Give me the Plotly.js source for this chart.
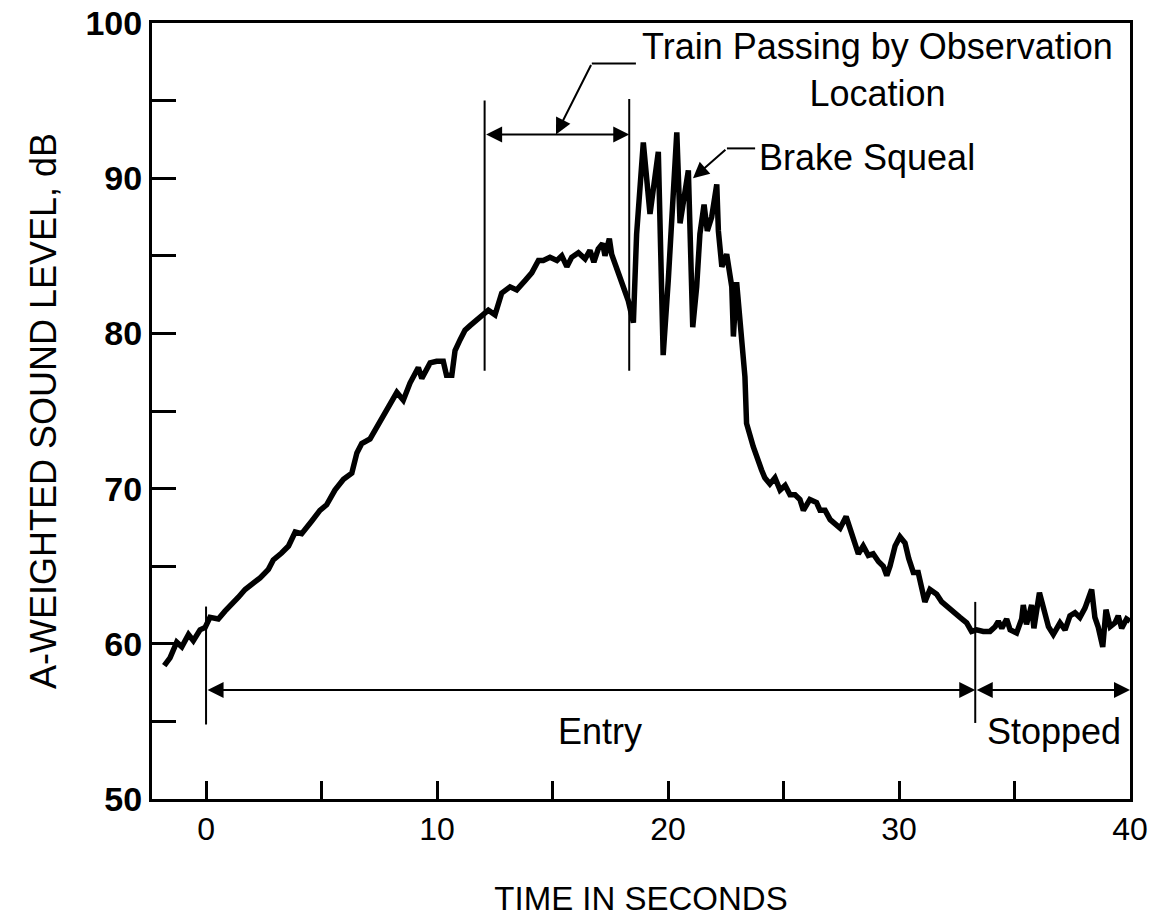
<!DOCTYPE html>
<html>
<head>
<meta charset="utf-8">
<script src="https://cdn.plot.ly/plotly-3.0.1.min.js"></script>
<style>html,body{margin:0;padding:0;background:#fff;}#chart{width:1156px;height:917px;}</style>
</head>
<body>
<div id="chart"></div>
<script>
const timeSec = [-1.81,-1.56,-1.27,-1.05,-0.76,-0.55,-0.26,-0.04,0.17,0.53,0.82,1.11,1.40,1.69,1.98,2.34,2.70,2.91,3.27,3.57,3.86,4.14,4.57,
4.93,5.22,5.58,5.95,6.31,6.53,6.74,7.10,7.53,7.96,8.26,8.54,8.83,9.19,9.34,9.70,9.98,10.27,10.41,10.64,10.78,11.00,11.21,11.43,11.80,
12.22,12.51,12.80,13.16,13.45,13.81,14.10,14.39,14.60,14.89,15.19,15.40,15.62,15.83,16.12,16.41,16.62,16.79,16.98,17.17,17.27,17.46,17.56,17.92,18.28,18.50,
18.64,18.93,19.08,19.22,19.58,19.79,20.01,20.38,20.52,20.66,20.88,21.07,21.24,21.38,21.56,21.70,21.89,22.11,22.18,22.33,22.54,22.76,22.83,22.97,23.12,23.33,
23.40,23.69,24.05,24.19,24.41,24.63,24.85,25.07,25.28,25.50,25.71,25.86,26.14,26.43,26.58,26.80,27.02,27.31,27.45,27.71,27.88,28.09,28.24,28.45,28.67,28.88,29.11,29.32,29.47,29.61,29.83,30.04,30.26,30.42,
30.62,30.83,31.12,31.34,31.63,31.85,32.07,32.35,32.64,32.93,33.14,33.36,33.65,33.94,34.16,34.30,34.45,34.66,34.81,35.09,35.31,35.38,35.52,35.74,35.84,36.08,36.25,36.47,36.68,36.97,37.19,37.40,37.62,37.83,38.05,38.19,38.34,38.48,38.62,38.82,38.96,39.14,39.35,39.49,39.64,39.85,40.00];
const levelDb = [58.6,59.1,60.1,59.8,60.6,60.2,60.9,61.05,61.7,61.6,62.1,62.5,63.0,63.5,63.8,64.25,64.8,65.4,65.85,66.3,67.2,67.1,67.9,
68.6,68.96,69.9,70.6,71.0,72.3,72.9,73.2,74.3,75.4,76.2,75.7,76.8,77.8,77.1,78.1,78.2,78.2,77.3,77.3,78.9,79.6,80.2,80.5,81.0,
81.5,81.2,82.6,83.0,82.8,83.4,83.9,84.7,84.7,84.9,84.7,85.0,84.3,84.9,85.2,84.8,85.35,84.6,85.45,85.8,85.0,86.1,85.1,83.6,82.1,80.7,
86.4,92.3,89.4,87.7,91.7,78.6,83.4,92.95,87.1,88.6,90.5,80.4,83.0,86.4,88.3,86.6,87.5,89.6,86.6,84.3,85.1,83.0,79.8,83.3,81.0,77.2,
74.2,72.7,71.2,70.7,70.3,70.7,69.9,70.2,69.6,69.6,69.3,68.6,69.3,69.1,68.6,68.6,68.0,67.6,67.45,68.2,67.35,66.3,65.8,66.3,65.7,65.8,65.3,65.0,64.4,65.0,66.3,66.9,66.5,65.5,
64.6,64.6,62.7,63.5,63.2,62.7,62.4,62.0,61.7,61.35,60.8,60.9,60.8,60.8,61.1,61.45,61.0,61.6,60.9,60.7,61.6,62.5,61.25,62.5,61.0,63.3,62.2,61.1,60.6,61.35,60.9,61.8,62.0,61.7,62.3,62.85,63.5,61.7,61.1,59.8,62.2,61.1,61.35,61.8,61.0,61.6,61.45];

const xTickVals = [0,5,10,15,20,25,30,35,40];
const xTickText = ['0','','10','','20','','30','','40'];
const yTickVals = [50,55,60,65,70,75,80,85,90,95,100];
const yTickText = ['50','','60','','70','','80','','90','','100'];

const labelTrain = 'Train Passing by Observation<br>Location';
const labelBrake = 'Brake Squeal';
const labelEntry = 'Entry';
const labelStopped = 'Stopped';
const xTitle = 'TIME IN SECONDS';
const yTitle = 'A-WEIGHTED SOUND LEVEL, dB';

const FONT = 'Liberation Sans, Arial, Helvetica, sans-serif';

const trace = {
  x: timeSec, y: levelDb, type: 'scatter', mode: 'lines',
  line: {color: '#000', width: 5.5}, hoverinfo: 'skip', showlegend: false
};

function vline(x, y0, y1) {
  return {type: 'line', xref: 'x', yref: 'y', x0: x, x1: x, y0: y0, y1: y1, line: {color: '#000', width: 2}};
}
function hline(x0, x1, y) {
  return {type: 'line', xref: 'x', yref: 'y', x0: x0, x1: x1, y0: y, y1: y, line: {color: '#000', width: 2}};
}
function arrow(x, y, ax, ay, both) {
  return {x: x, y: y, ax: ax, ay: ay, xref: 'x', yref: 'y', axref: 'x', ayref: 'y', text: '',
    showarrow: true, arrowhead: 2, startarrowhead: 2, arrowsize: 1.6, startarrowsize: 1.6, arrowwidth: 2,
    arrowcolor: '#000', arrowside: both ? 'end+start' : 'end', standoff: 0, startstandoff: 0};
}
function label(text, x, y, xanchor) {
  return {x: x, y: y, xref: 'x', yref: 'y', text: text, showarrow: false, xanchor: xanchor || 'center', yanchor: 'middle',
    font: {family: FONT, size: 36, color: '#000'}, align: 'center'};
}

const layout = {
  width: 1156, height: 917,
  margin: {l: 152, r: 26, t: 23, b: 118, pad: 0},
  paper_bgcolor: '#fff', plot_bgcolor: '#fff',
  showlegend: false,
  xaxis: {
    range: [-2.34, 40], tickmode: 'array', tickvals: xTickVals, ticktext: xTickText,
    ticks: 'inside', ticklen: 18, tickwidth: 3, tickcolor: '#000',
    showline: true, linewidth: 3, linecolor: '#000', mirror: true,
    showgrid: false, zeroline: false,
    tickfont: {family: FONT, size: 32, color: '#000'},
    title: {text: xTitle, font: {family: FONT, size: 33, color: '#000'}, standoff: 42}
  },
  yaxis: {
    range: [50, 100], tickmode: 'array', tickvals: yTickVals, ticktext: yTickText,
    ticks: 'inside', ticklen: 24, tickwidth: 3, tickcolor: '#000',
    showline: true, linewidth: 3, linecolor: '#000', mirror: true,
    showgrid: false, zeroline: false,
    tickfont: {family: FONT, size: 34, color: '#000', weight: 'bold'},
    title: {text: yTitle, font: {family: FONT, size: 36, color: '#000'}, standoff: 18}
  },
  shapes: [
    vline(0, 62.4, 54.8),
    vline(33.3, 62.7, 54.9),
    vline(12.06, 95.0, 77.6),
    vline(18.32, 95.1, 77.6),
    hline(16.7, 18.61, 97.39),
    hline(22.55, 23.77, 91.92)
  ],
  annotations: [
    arrow(18.32, 92.82, 12.06, 92.82, true),
    arrow(15.15, 92.82, 16.7, 97.39, false),
    arrow(21.08, 90.0, 22.55, 91.92, false),
    arrow(33.3, 57.02, 0, 57.02, true),
    arrow(40, 57.02, 33.3, 57.02, true),
    label(labelTrain, 29.09, 96.94),
    label(labelBrake, 23.85, 91.34, 'left'),
    label(labelEntry, 17.06, 54.38),
    label(labelStopped, 36.71, 54.38)
  ]
};

Plotly.newPlot('chart', [trace], layout, {displayModeBar: false, staticPlot: true});
</script>
</body>
</html>
